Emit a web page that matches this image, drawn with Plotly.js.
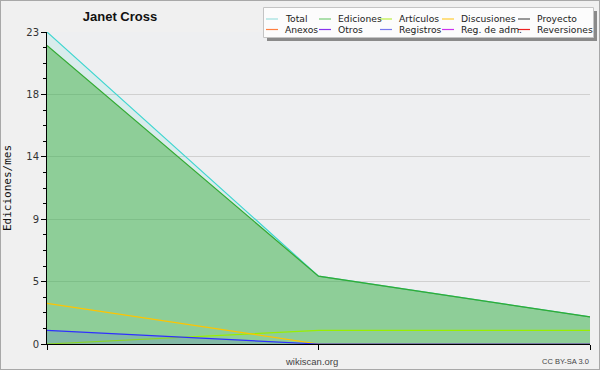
<!DOCTYPE html>
<html>
<head>
<meta charset="utf-8">
<script src="https://cdn.plot.ly/plotly-3.0.1.min.js"></script>
<style>
html,body{margin:0;padding:0;background:#f0f0f0;}
#wrap{position:relative;width:600px;height:370px;}
#chart{width:600px;height:370px;}
#frame{position:absolute;left:0;top:0;width:598px;height:368px;border:1px solid #a8a8a8;pointer-events:none;}
</style>
</head>
<body>
<div id="wrap"><div id="chart"></div><div id="frame"></div></div>
<script>
// --- data ---
const months = [0, 1, 2];
const seriesNames = ["Total","Ediciones","Artículos","Discusiones","Proyecto","Anexos","Otros","Registros","Reg. de adm.","Reversiones"];
const total       = [23, 5, 2];
const ediciones   = [22, 5, 2];
const articulos   = [0, 1, 1];
const discusiones = [3, 0, 0];
const proyecto    = [];
const anexos      = [];
const otros       = [];
const registros   = [1, 0, 0];
const regAdm      = [];
const reversiones = [];
const yTickVals  = [0, 4.6, 9.2, 13.8, 18.4, 23];
const yTickText  = ["0", "5", "9", "14", "18", "23"];

// --- styles ---
const colors = ["#3fd6d0","#33aa33","#99ee00","#ffc400","#555555","#ff7f3f","#8833ee","#2f2fff","#cc33ee","#ee2222"];
const legendColors = ["#9de0de","#77cc77","#bbee44","#ffcc33","#555555","#ff7f3f","#8833ee","#7777ee","#cc33ee","#ee2222"];
const fills = ["rgba(64,214,208,0.12)","rgba(51,170,51,0.45)",null,null,null,null,null,"rgba(60,60,255,0.14)",null,null];
const values = [total,ediciones,articulos,discusiones,proyecto,anexos,otros,registros,regAdm,reversiones];

const traces = values.map((v,i)=>{
  const t = {
    type:'scatter', mode:'lines', name:seriesNames[i],
    x: months.slice(0, v.length), y: v,
    line:{color:colors[i], width:1.2},
    hoverinfo:'skip', showlegend:false
  };
  if (fills[i]) { t.fill='tozeroy'; t.fillcolor=fills[i]; }
  return t;
});

// --- layout geometry (pixels) ---
const W = 600, H = 370, mL = 47, mR = 10, mT = 32, mB = 26;
const pw = W - mL - mR, ph = H - mT - mB;
const px2x = p => (p - mL) / pw;
const px2y = p => (H - mB - p) / ph;

// custom legend: 5 columns x 2 rows
const legColX = [266, 319, 380, 442, 518];
const legRowY = [19, 29.5];
const legLineLen = 12, legTextGap = 5;
const shapes = [
  {type:'rect', xref:'paper', yref:'paper', x0:px2x(267), x1:px2x(597), y0:px2y(11), y1:px2y(41),
   fillcolor:'#8a8a8a', line:{width:0}, layer:'above'},
  {type:'rect', xref:'paper', yref:'paper', x0:px2x(263.5), x1:px2x(593.5), y0:px2y(7.5), y1:px2y(37.5),
   fillcolor:'#fcfcfc', line:{color:'#c4c4c4', width:1}, layer:'above'}
];
const annotations = [
  {text:'wikiscan.org', xref:'paper', yref:'paper', x:px2x(311), y:px2y(361), xanchor:'center', yanchor:'middle', showarrow:false,
   font:{family:'Liberation Sans, Arial, sans-serif', size:9.5, color:'#444'}},
  {text:'CC BY-SA 3.0', xref:'paper', yref:'paper', x:px2x(591), y:px2y(361), xanchor:'right', yanchor:'middle', showarrow:false,
   font:{family:'Liberation Sans, Arial, sans-serif', size:7.5, color:'#444'}}
];
seriesNames.forEach((n,i)=>{
  const c = i % 5, r = Math.floor(i / 5);
  const x0 = legColX[c], y = legRowY[r];
  shapes.push({type:'line', xref:'paper', yref:'paper', x0:px2x(x0), x1:px2x(x0+legLineLen), y0:px2y(y), y1:px2y(y),
               line:{color:legendColors[i], width:1.2}, layer:'above'});
  annotations.push({text:n, xref:'paper', yref:'paper', x:px2x(x0+legLineLen+legTextGap), y:px2y(y),
                    xanchor:'left', yanchor:'middle', showarrow:false,
                    font:{family:'DejaVu Sans, sans-serif', size:9.2, color:'#222'}});
});

const layout = {
  width:W, height:H,
  margin:{l:mL, r:mR, t:mT, b:mB, autoexpand:false},
  paper_bgcolor:'#f0f0f0', plot_bgcolor:'#eeeff1',
  font:{family:'DejaVu Sans, sans-serif', size:10, color:'#333'},
  title:{text:'<b>Janet Cross</b>', x:0.2, xref:'container', xanchor:'center', y:0.955, yref:'container', yanchor:'middle',
         font:{family:'Liberation Sans, Arial, sans-serif', size:13, color:'#111'}},
  showlegend:false,
  xaxis:{range:[0,2], showgrid:false, zeroline:false, showline:true, linecolor:'#000', linewidth:1,
         tickmode:'array', tickvals:[0,1,2], ticktext:['','',''], ticks:'outside', ticklen:5, tickcolor:'#000', fixedrange:true},
  yaxis:{range:[0,23], showgrid:true, gridcolor:'#d0d0d0', gridwidth:1, zeroline:false, showline:true, linecolor:'#000', linewidth:1,
         tickmode:'array', tickvals:yTickVals, ticktext:yTickText, ticks:'outside', ticklen:5, tickcolor:'#000',
         tickfont:{size:10, color:'#333'},
         minor:{dtick:1.15, tick0:0, ticks:'outside', ticklen:3, tickcolor:'#000', showgrid:false},
         title:{text:'Ediciones/mes', standoff:12, font:{family:'DejaVu Sans Mono, monospace', size:11, color:'#111'}}, fixedrange:true},
  shapes:shapes,
  annotations:annotations
};

Plotly.newPlot('chart', traces, layout, {staticPlot:true, displayModeBar:false});
</script>
</body>
</html>
